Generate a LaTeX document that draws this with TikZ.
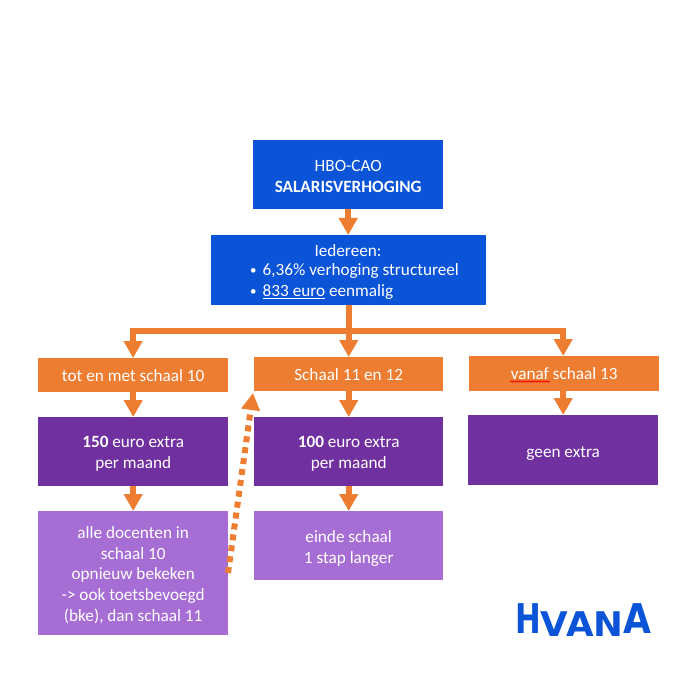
\documentclass[tikz,border=0pt]{standalone}
\usepackage{fontspec}
\setmainfont{Carlito}
\newfontfamily\logofont{DejaVu Sans}
\usetikzlibrary{arrows.meta,decorations.pathmorphing}
\definecolor{bluebox}{HTML}{0B54D8}
\definecolor{orangebox}{HTML}{ED7D31}
\definecolor{purplebox}{HTML}{7030A0}
\definecolor{lilacbox}{HTML}{A66DD4}
\newcommand{\smallbullet}{\makebox[13.5pt][l]{\hspace{1pt}\fontsize{13}{13}\selectfont\raisebox{1pt}{•}}}
\tikzset{
  x=1pt,y=-1pt,
  txt/.style={text=white,font=\fontsize{17.2}{20.8}\selectfont},
  lab/.style={txt,align=center,inner sep=0pt,yshift=-2pt},
  box/.style={minimum width=#1,inner sep=0pt,align=center,txt,anchor=north west},
  bluenode/.style={box=190pt,fill=bluebox,minimum height=69pt},
  orangenode/.style={box=190pt,fill=orangebox,minimum height=34pt},
  purplenode/.style={box=190pt,fill=purplebox,minimum height=69pt},
  lilacnode/.style={box=190pt,fill=lilacbox},
  conn/.style={draw=orangebox,line width=6pt,-{Triangle[width=18pt,length=17pt]}},
  dotconn/.style={draw=orangebox,line width=6pt,dash pattern=on 6pt off 5pt,-{Triangle[width=18pt,length=17pt,sep=0pt]}},
}
\begin{document}
\begin{tikzpicture}
\useasboundingbox (0,0) rectangle (700,700);
\node[bluenode,label={[lab]center:{HBO-CAO\\\textbf{SALARISVERHOGING}}}] (top) at (253,140) {};
\node[box=275pt,fill=bluebox,minimum height=70pt] (all) at (211,235) {};
\node[txt,inner sep=0pt] (allhead) at (348,251) {Iedereen:};
\node[txt,inner sep=0pt,anchor=west] (allone) at (249,271.5) {\smallbullet 6,36\% verhoging structureel};
\node[txt,inner sep=0pt,anchor=west] (alltwo) at (249,292.5) {\smallbullet\underline{833 euro} eenmalig};

\node[orangenode] (a) at (38,358) {tot en met schaal 10};
\node[orangenode,minimum width=189pt] (b) at (254,357) {Schaal 11 en 12};
\node[orangenode,minimum height=35pt] (c) at (469,356) {vanaf schaal 13};
\draw[red,line width=0.8pt,decorate,decoration={snake,amplitude=0.7pt,segment length=3pt}] (510,381.5) -- (550,381.5);

\node[purplenode,label={[lab]center:{\textbf{150} euro extra\\per maand}}] (a2) at (38,417) {};
\node[purplenode,minimum width=189pt,label={[lab]center:{\textbf{100} euro extra\\per maand}}] (b2) at (254,417) {};
\node[purplenode,minimum height=70pt,label={[lab,yshift=-1pt]center:{geen extra}}] (c2) at (468,415) {};

\node[lilacnode,minimum height=124pt,label={[lab]center:{alle docenten in\\schaal 10\\opnieuw bekeken\\-> ook toetsbevoegd\\(bke), dan schaal 11}}] (a3) at (38,511) {};
\node[lilacnode,minimum width=189pt,minimum height=69pt,label={[lab,yshift=-1pt]center:{einde schaal\\1 stap langer}}] (b3) at (254,511) {};

\coordinate (junction) at (348,331);
\coordinate (dotstart) at (228,573);
\coordinate (dotend) at (253,393);

\draw[conn] (top.south) -- (all.north -| top.south);
\draw[conn] (all.south) -- (b.north -| all.south);
\draw[conn] (junction) -| ([xshift=-.1pt]a.north);
\draw[conn] (junction) -| ([xshift=-1pt]c.north);
\draw[conn] (a.south) -- (a2.north);
\draw[conn] (b.south) -- (b2.north);
\draw[conn] ([xshift=-1pt]c.south) -- (c2.north);
\draw[conn] (a2.south) -- (a3.north);
\draw[conn] (b2.south) -- (b3.north);
\draw[dotconn] (dotstart) -- (dotend);

\node[text=bluebox,inner sep=0pt,anchor=base west,font=\logofont\bfseries] (logo) at (515,633) {\fontsize{41}{41}\selectfont\scalebox{.75}[1]{H}\fontsize{34}{34}\selectfont\raisebox{-3pt}{\scalebox{1.05}[1]{VAN}}\fontsize{41}{41}\selectfont\scalebox{.88}[1]{A}};
\end{tikzpicture}
\end{document}
